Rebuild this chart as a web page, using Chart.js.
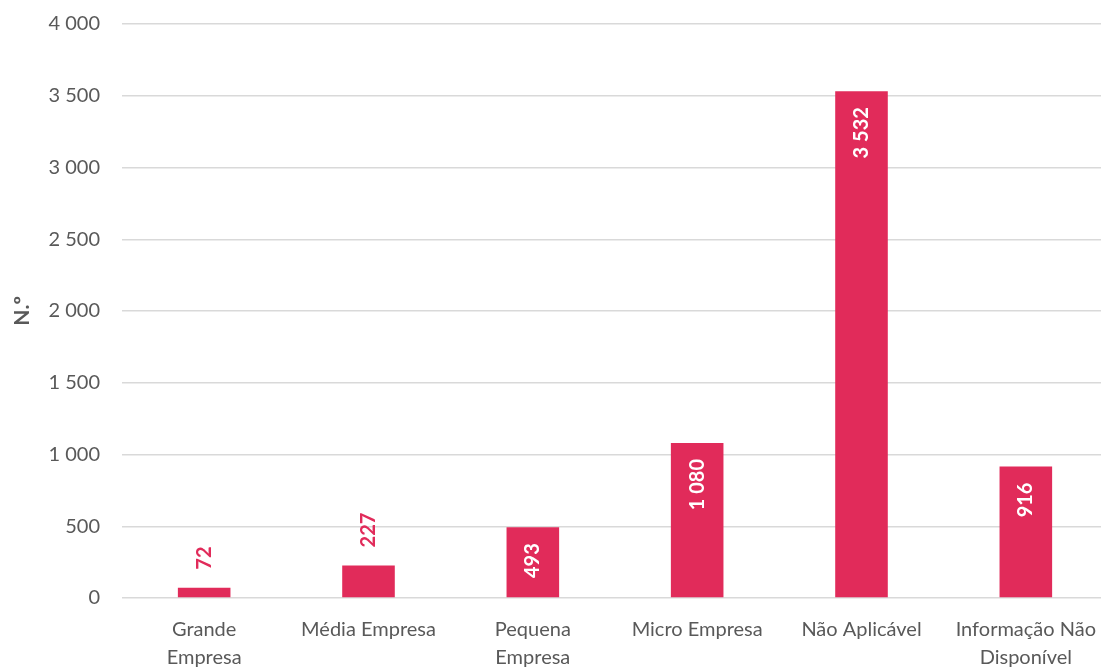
<!DOCTYPE html>
<html>
<head>
<meta charset="utf-8">
<script src="https://cdn.jsdelivr.net/npm/chart.js@4/dist/chart.umd.min.js"></script>
<style>
html,body{margin:0;padding:0;background:#fff;overflow:hidden;width:1101px;height:670px;}
#wrap{position:absolute;left:0;top:-10px;width:1108px;height:692px;}
</style>
</head>
<body>
<div id="wrap"><canvas id="c"></canvas></div>
<script>
const categories = [["Grande","Empresa"],"Média Empresa",["Pequena","Empresa"],"Micro Empresa","Não Aplicável",["Informação Não","Disponível"]];
const values = [72, 227, 493, 1080, 3532, 916];
const yTicks = [0, 500, 1000, 1500, 2000, 2500, 3000, 3500, 4000];
const insideLabel = [false, false, true, true, true, true];

const BAR = '#E12B5A';
const TXT = '#595959';
const FONT = 'Lato, "Open Sans", sans-serif';

function fmt(v){ return String(v).replace(/\B(?=(\d{3})+(?!\d))/g, ' '); }

const labelPlugin = {
  id: 'barLabels',
  afterDatasetsDraw(chart){
    const ctx = chart.ctx;
    const meta = chart.getDatasetMeta(0);
    meta.data.forEach((bar, i) => {
      const v = values[i];
      ctx.save();
      ctx.font = 'bold 20px ' + FONT;
      ctx.textBaseline = 'middle';
      if (insideLabel[i]) {
        ctx.translate(bar.x, bar.y + 16);
        ctx.rotate(-Math.PI/2);
        ctx.fillStyle = '#ffffff';
        ctx.textAlign = 'right';
      } else {
        ctx.translate(bar.x, bar.y - 18);
        ctx.rotate(-Math.PI/2);
        ctx.fillStyle = BAR;
        ctx.textAlign = 'left';
      }
      ctx.fillText(fmt(v), 0, 0);
      ctx.restore();
    });
  }
};

new Chart(document.getElementById('c'), {
  type: 'bar',
  data: {
    labels: categories,
    datasets: [{ data: values, backgroundColor: BAR, borderWidth: 0, barPercentage: 0.32, categoryPercentage: 1 }]
  },
  options: {
    responsive: true,
    maintainAspectRatio: false,
    animation: false,
    layout: { padding: { top: 6, right: 0, bottom: 0, left: 0 } },
    plugins: { legend: { display: false }, tooltip: { enabled: false } },
    scales: {
      x: {
        grid: { display: false },
        border: { display: false },
        ticks: { color: TXT, font: { family: FONT, size: 20, lineHeight: 1.4 }, maxRotation: 0, autoSkip: false, padding: 10 }
      },
      y: {
        min: 0, max: 4000,
        afterBuildTicks(axis){ axis.ticks = yTicks.map(v => ({ value: v })); },
        afterFit(axis){ axis.width = 122; },
        grid: { color: '#D9D9D9', lineWidth: 1.5, drawTicks: false },
        border: { display: false },
        ticks: { color: TXT, font: { family: FONT, size: 20 }, padding: 22, callback: v => fmt(v) },
        title: { display: true, text: 'N.º', color: TXT, font: { family: FONT, size: 21, weight: 'bold' }, padding: { top: 10, bottom: 0 } }
      }
    }
  },
  plugins: [labelPlugin]
});
</script>
</body>
</html>
